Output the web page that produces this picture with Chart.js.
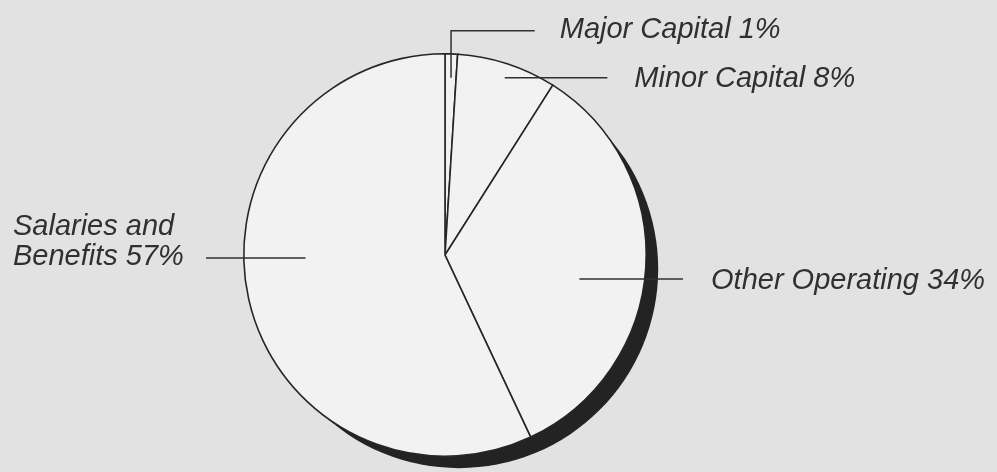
<!DOCTYPE html>
<html>
<head>
<meta charset="utf-8">
<script src="https://cdn.jsdelivr.net/npm/chart.js@4.4.1/dist/chart.umd.min.js"></script>
<style>
  html, body { margin: 0; padding: 0; background: #e2e2e2; }
  #wrap { width: 997px; height: 472px; position: relative; }
</style>
</head>
<body>
<div id="wrap"><canvas id="c" width="997" height="472"></canvas></div>
<script>
// ---- data ----
const categories = ['Major Capital', 'Minor Capital', 'Other Operating', 'Salaries and Benefits'];
const shares = [1, 8, 34, 57];
const labelLines = [
  ['Major Capital 1%'],
  ['Minor Capital 8%'],
  ['Other Operating 34%'],
  ['Salaries and', 'Benefits 57%']
];

// ---- label layout (relative to pie centre, in units of the radius) ----
const leaderLayout = [
  { pts: [[0.030, -0.881], [0.030, -1.114], [0.446, -1.114]], text: { dx: 25, dy: 7, align: 'left' } },
  { pts: [[0.297, -0.881], [0.807, -0.881]], text: { dx: 27, dy: 9, align: 'left' } },
  { pts: [[0.668, 0.119], [1.183, 0.119]], text: { dx: 28, dy: 10, align: 'left' } },
  { pts: [[-0.693, 0.015], [-1.188, 0.015]], text: { dx: -20, dy: -23, align: 'block', fit: 173 } }
];

const FONT = 'italic 29px "Liberation Sans", Arial, sans-serif';
const INK = '#303030';

const shadowPlugin = {
  id: 'shadow',
  beforeDatasetsDraw(chart) {
    const arc = chart.getDatasetMeta(0).data[0];
    if (!arc) return;
    const { x, y, outerRadius } = arc.getProps(['x', 'y', 'outerRadius'], true);
    const ctx = chart.ctx;
    ctx.save();
    ctx.fillStyle = '#232323';
    ctx.beginPath();
    ctx.arc(x + 14, y + 14, outerRadius - 2, 0, Math.PI * 2);
    ctx.fill();
    ctx.restore();
  }
};

const labelPlugin = {
  id: 'leaders',
  afterDatasetsDraw(chart) {
    const arc = chart.getDatasetMeta(0).data[0];
    if (!arc) return;
    const { x, y, outerRadius: R } = arc.getProps(['x', 'y', 'outerRadius'], true);
    const ctx = chart.ctx;
    ctx.save();
    ctx.strokeStyle = INK;
    ctx.lineWidth = 1.5;
    ctx.fillStyle = INK;
    ctx.font = FONT;
    ctx.textBaseline = 'alphabetic';
    leaderLayout.forEach((lay, i) => {
      const pts = lay.pts.map(p => [x + p[0] * R, y + p[1] * R]);
      ctx.beginPath();
      ctx.moveTo(pts[0][0], pts[0][1]);
      for (let k = 1; k < pts.length; k++) ctx.lineTo(pts[k][0], pts[k][1]);
      ctx.stroke();
      const end = pts[pts.length - 1];
      const lines = labelLines[i];
      ctx.textAlign = 'left';
      if (lay.text.align === 'block') {
        const w = lay.text.fit;
        const left = end[0] + lay.text.dx - w;
        lines.forEach((ln, j) => {
          const natural = ctx.measureText(ln).width;
          ctx.fillText(ln, left, end[1] + lay.text.dy + j * 30, Math.min(natural, w));
        });
      } else {
        lines.forEach((ln, j) => {
          ctx.fillText(ln, end[0] + lay.text.dx, end[1] + lay.text.dy + j * 30);
        });
      }
    });
    ctx.restore();
  }
};

new Chart(document.getElementById('c'), {
  type: 'pie',
  data: {
    labels: categories,
    datasets: [{
      data: shares,
      backgroundColor: '#f2f2f2',
      borderColor: '#262626',
      borderWidth: 1.6,
      borderJoinStyle: 'miter'
    }]
  },
  options: {
    responsive: false,
    animation: false,
    devicePixelRatio: 1,
    layout: { padding: { left: 243, right: 350, top: 53, bottom: 15 } },
    plugins: {
      legend: { display: false },
      tooltip: { enabled: false },
      title: { display: false }
    }
  },
  plugins: [shadowPlugin, labelPlugin]
});
</script>
</body>
</html>
